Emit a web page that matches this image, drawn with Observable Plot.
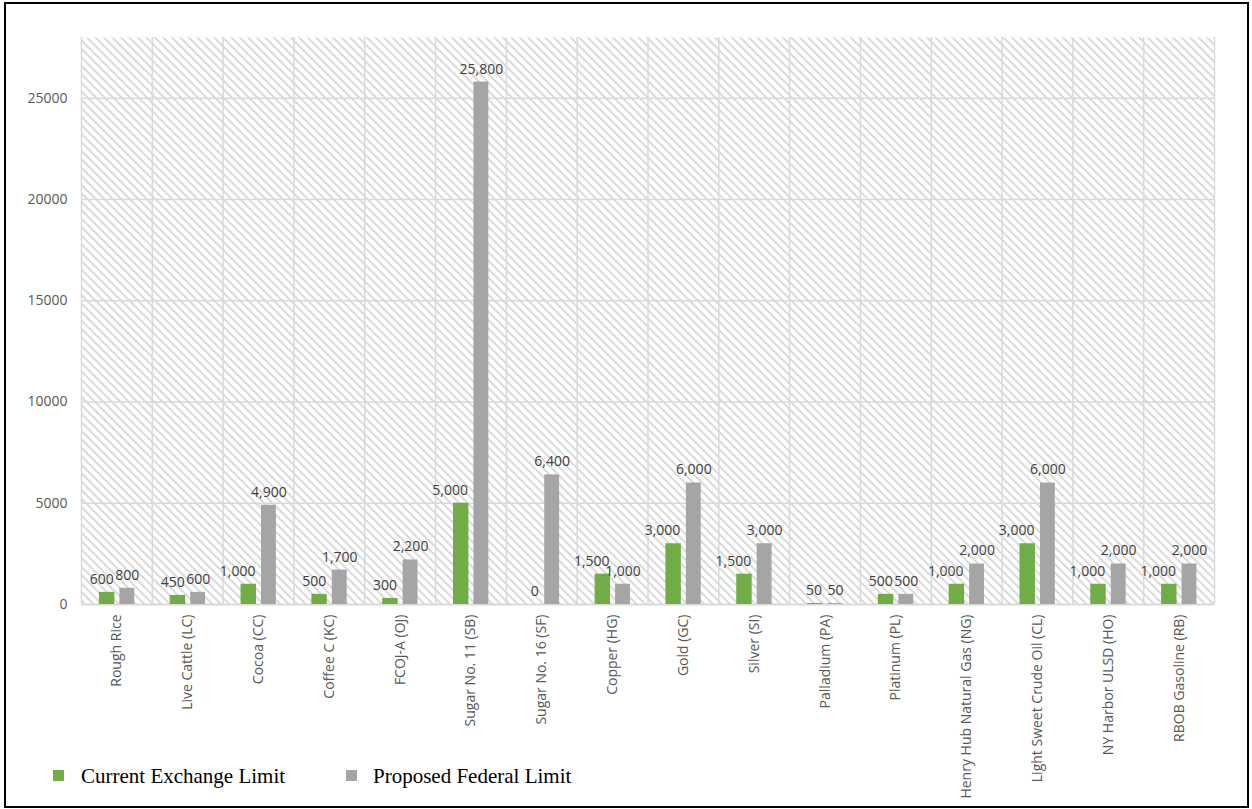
<!DOCTYPE html>
<html>
<head>
<meta charset="utf-8">
<script src="https://cdn.jsdelivr.net/npm/d3@7"></script>
<script src="https://cdn.jsdelivr.net/npm/@observablehq/plot@0.6"></script>
<style>
  html, body { margin: 0; padding: 0; background: #fff; }
  #wrap { position: relative; width: 1252px; height: 809px; overflow: hidden; }
  #chart { position: absolute; left: 0; top: 0; }
  #border { position: absolute; left: 4px; top: 2px; width: 1245px; height: 806px;
            box-sizing: border-box; border: 2px solid #000; pointer-events: none; }
  .legend { position: absolute; top: 764px; left: 0; height: 24px;
            font-family: "Liberation Serif", "Times New Roman", serif; font-size: 21px;
            line-height: 24px; color: #000; }
  .legend .sw { position: absolute; top: 6px; width: 11px; height: 11px; }
  .legend .lb { position: absolute; top: 0; white-space: nowrap; }
</style>
</head>
<body>
<div id="wrap">
  <div id="chart"></div>
  <div class="legend">
    <span class="sw" style="left:53px;background:#70ad47"></span>
    <span class="lb" style="left:81px">Current Exchange Limit</span>
    <span class="sw" style="left:346px;background:#a5a5a5"></span>
    <span class="lb" style="left:373px">Proposed Federal Limit</span>
  </div>
  <div id="border"></div>
</div>
<script>
// Contracts and position limits
const contracts = [
  "Rough Rice", "Live Cattle (LC)", "Cocoa (CC)", "Coffee C (KC)", "FCOJ-A (OJ)",
  "Sugar No. 11 (SB)", "Sugar No. 16 (SF)", "Copper (HG)", "Gold (GC)", "Silver (SI)",
  "Palladium (PA)", "Platinum (PL)", "Henry Hub Natural Gas (NG)",
  "Light Sweet Crude Oil (CL)", "NY Harbor ULSD (HO)", "RBOB Gasoline (RB)"
];
const currentLimit = [600, 450, 1000, 500, 300, 5000, 0, 1500, 3000, 1500, 50, 500, 1000, 3000, 1000, 1000];
const proposedLimit = [800, 600, 4900, 1700, 2200, 25800, 6400, 1000, 6000, 3000, 50, 500, 2000, 6000, 2000, 2000];
const yTicks = [0, 5000, 10000, 15000, 20000, 25000];
const yMax = 28000;

const GREEN = "#70ad47";
const GRAY = "#a5a5a5";
const GRID = "#d9d9d9";

// one row per contract, with its slot index on the x axis
const rows = contracts.map((name, i) => ({name, i, cur: currentLimit[i], prop: proposedLimit[i]}));
const fmt = d3.format(",");

// fractional placement of the two bars inside each contract slot
const G0 = 0.253, G1 = 0.471, P0 = 0.542, P1 = 0.752;

const chart = Plot.plot({
  width: 1252,
  height: 809,
  marginLeft: 81,
  marginRight: 38,
  marginTop: 37,
  marginBottom: 205,
  style: {fontFamily: "'Open Sans', sans-serif", fontSize: "14px", color: "#595959", background: "transparent"},
  x: {type: "linear", domain: [0, contracts.length]},
  y: {domain: [0, yMax]},
  marks: [
    Plot.frame({fill: "url(#hatch)", stroke: null}),
    Plot.gridY(yTicks.filter(d => d > 0), {stroke: GRID, strokeOpacity: 1, strokeWidth: 1.5}),
    Plot.ruleX(d3.range(contracts.length + 1), {y1: 0, y2: yMax, stroke: GRID, strokeWidth: 1.5}),
    Plot.ruleY([0], {stroke: GRID, strokeWidth: 2}),
    Plot.rectY(rows, {x1: d => d.i + G0, x2: d => d.i + G1, y1: 0, y2: "cur", fill: GREEN}),
    Plot.rectY(rows, {x1: d => d.i + P0, x2: d => d.i + P1, y1: 0, y2: "prop", fill: GRAY}),
    Plot.text(rows, {x: d => d.i + G1, y: "cur", text: d => fmt(d.cur), textAnchor: "end",
      dx: -1, dy: -13, fill: "#404040", fontSize: 14}),
    Plot.text(rows, {x: d => d.i + (P0 + P1) / 2, y: "prop", text: d => fmt(d.prop),
      dy: -13, fill: "#404040", fontSize: 14}),
    Plot.axisY(yTicks, {tickSize: 0, tickPadding: 14, fontSize: 14, fill: "#595959", label: null,
      tickFormat: d3.format("d")}),
    Plot.axisX(d3.range(contracts.length).map(i => i + 0.5), {
      tickFormat: d => contracts[Math.floor(d)], tickRotate: -90, tickSize: 0, tickPadding: 10,
      fontSize: 14, fill: "#595959", label: null
    })
  ]
});

// diagonal hatch used as the plot-area background
const ns = "http://www.w3.org/2000/svg";
const defs = document.createElementNS(ns, "defs");
defs.innerHTML =
  '<pattern id="hatch" patternUnits="userSpaceOnUse" width="6" height="6" patternTransform="rotate(45)">' +
  '<rect width="6" height="6" fill="#ffffff"/>' +
  '<rect width="6" height="2" fill="#dadada"/>' +
  '</pattern>';
chart.insertBefore(defs, chart.firstChild);

document.getElementById("chart").appendChild(chart);
</script>
</body>
</html>
